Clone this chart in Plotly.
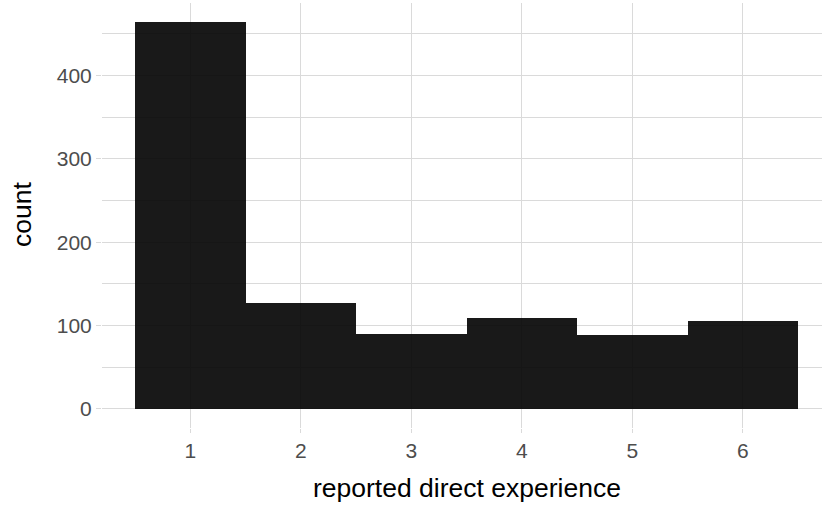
import plotly.graph_objects as go

# Data
experience = [1, 2, 3, 4, 5, 6]
counts = [464, 127, 90, 109, 88, 105]
y_ticks = [0, 100, 200, 300, 400]

GRID = "#dadada"
FONT = "Liberation Sans, Arial, sans-serif"

fig = go.Figure()
fig.add_trace(go.Bar(
    x=experience,
    y=counts,
    width=1,
    marker=dict(color="rgba(0,0,0,0.9)", line=dict(width=0)),
    showlegend=False,
))

fig.update_layout(
    width=822,
    height=506,
    margin=dict(l=102, r=0, t=3, b=78),
    plot_bgcolor="white",
    paper_bgcolor="white",
    bargap=0,
    font=dict(family=FONT),
    xaxis=dict(
        range=[0.2, 6.716],
        tickmode="array",
        tickvals=experience,
        ticktext=[str(v) for v in experience],
        showgrid=True,
        gridcolor=GRID,
        gridwidth=1,
        zeroline=False,
        showline=False,
        ticks="outside",
        ticklen=4,
        tickcolor=GRID,
        tickwidth=1,
        tickfont=dict(size=21, color="#4d4d4d", family=FONT),
    ),
    yaxis=dict(
        range=[-23.2, 487.2],
        tickmode="array",
        tickvals=y_ticks,
        ticktext=[str(v) for v in y_ticks],
        showgrid=True,
        gridcolor=GRID,
        gridwidth=1,
        zeroline=False,
        showline=False,
        ticks="outside",
        ticklen=5,
        tickcolor=GRID,
        tickwidth=1,
        tickfont=dict(size=21, color="#4d4d4d", family=FONT),
        minor=dict(dtick=50, tick0=0, showgrid=True, gridcolor=GRID, gridwidth=1, ticks=""),
    ),
    annotations=[
        dict(text="reported direct experience", xref="paper", yref="paper",
             x=(466.5 - 102) / 720, y=-(488 - 428) / 425, xanchor="center", yanchor="middle",
             showarrow=False, font=dict(size=26.5, color="black", family=FONT)),
        dict(text="count", xref="paper", yref="paper",
             x=-(102 - 22) / 720, y=(428 - 215) / 425, xanchor="center", yanchor="middle",
             textangle=-90, showarrow=False, font=dict(size=26.5, color="black", family=FONT)),
    ],
)

fig.write_html(
    "out.html",
    config={"displayModeBar": False},
    post_script="document.body.style.margin='0';document.body.style.overflow='hidden';",
)
